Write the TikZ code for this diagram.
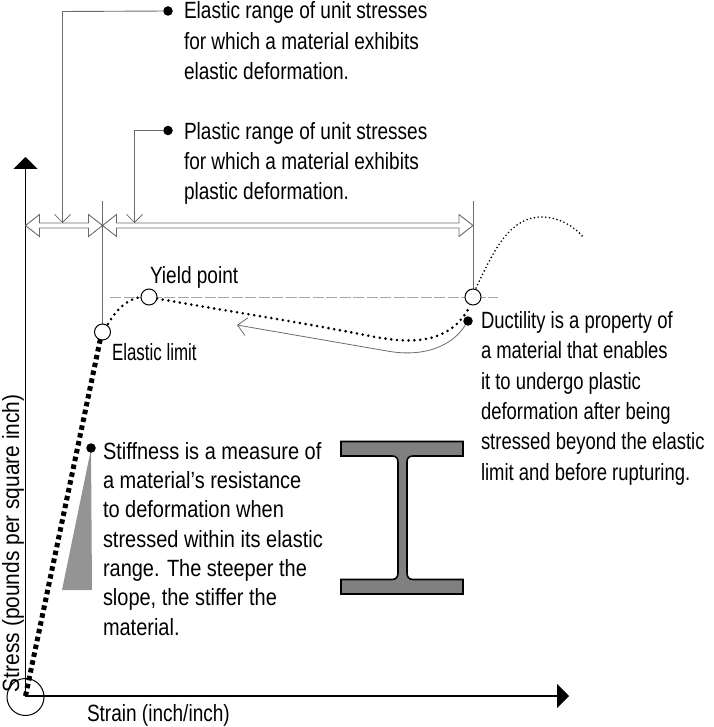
\documentclass[tikz,border=0pt]{standalone}
\usepackage{fontspec}
\setmainfont[FakeStretch=0.81]{Liberation Sans}
\newfontfamily\stifffont[FakeStretch=0.85]{Liberation Sans}
\newfontfamily\ductfont[FakeStretch=0.785]{Liberation Sans}
\newfontfamily\limitfont[FakeStretch=0.72]{Liberation Sans}
\newfontfamily\stressfont[FakeStretch=0.89]{Liberation Sans}
\usetikzlibrary{arrows.meta,calc}
\definecolor{leader}{gray}{0.42}
\tikzset{
  x=1pt,y=-1pt,
  lab/.style={inner sep=0pt,outer sep=0pt,anchor=base west,align=left,font=\fontsize{23.5}{30.3}\selectfont,text=black},
  dotn/.style={circle,fill=black,inner sep=0pt,minimum size=9.5pt},
  ring/.style={circle,draw=black,line width=1pt,fill=white,inner sep=0pt,minimum size=16pt},
  leaderl/.style={draw=leader,line width=0.9pt},
  vhead/.style={-{Straight Barb[length=8pt,width=16pt,line width=0.8pt,color=leader]}},
  dimshape/.style={draw=leader,line width=0.9pt,fill=white,line join=miter},
  axisl/.style={draw=black,line width=1.2pt,-{Triangle[length=12pt,width=24pt,color=black]}},
  thinlineb/.style={draw=leader,line width=0.9pt},
  fine/.style={draw=black,line width=1.8pt,line cap=round,dash pattern=on 0pt off 3.8pt},
  medium/.style={draw=black,line width=2.9pt,line cap=round,dash pattern=on 0pt off 5.8pt},
  heavy/.style={draw=black,line width=5pt,dash pattern=on 4.5pt off 3.5pt},
}
\begin{document}
\begin{tikzpicture}
\useasboundingbox (0,0) rectangle (713,727);
% coordinates
\coordinate (O) at (25.5,696);
\coordinate (ytop) at (25.5,157);
\coordinate (xtip) at (569,696);
\coordinate (dL) at (25.5,225.5);
\coordinate (dM) at (102.5,225.5);
\coordinate (dR) at (473,225.5);
\coordinate (tM) at (102.5,201);
\coordinate (tR) at (473,201);
\coordinate (hL) at (110,297);
\coordinate (hR) at (498,297);
\coordinate (e1) at (62.5,223);
\coordinate (e2) at (134.5,223);
\coordinate (bendA) at (62.5,11.5);
\coordinate (bendB) at (134.5,130.5);
\coordinate (tipD) at (237,325);
\coordinate (endC) at (583,237);
% stiffness triangle
\fill[black!42] (91,449) -- (92,590) -- (62,590) -- cycle;
% axes
\draw[axisl] (25.5,697) -- (ytop);
\draw[axisl] (25.5,696) -- (xtip);
\node[circle,draw=black,line width=1pt,inner sep=0pt,minimum size=37pt] (orig) at (25.5,697) {};
% guides
\draw[leaderl] (tM) -- (102.5,326);
\draw[leaderl] (tR) -- (473,290);
\draw[draw=gray!70,line width=1pt,dash pattern=on 11pt off 2.5pt] (hL) -- (hR);
% dimension arrows
\draw[dimshape] (dL) -- ++(14,-11) -- ++(0,8.5) -- ($(dM)+(-14,-2.5)$) -- ($(dM)+(-14,-11)$) -- (dM)
  -- ($(dM)+(-14,11)$) -- ($(dM)+(-14,2.5)$) -- ($(dL)+(14,2.5)$) -- ($(dL)+(14,11)$) -- cycle;
\draw[dimshape] (dM) -- ++(14,-11) -- ++(0,8.5) -- ($(dR)+(-14,-2.5)$) -- ($(dR)+(-14,-11)$) -- (dR)
  -- ($(dR)+(-14,11)$) -- ($(dR)+(-14,2.5)$) -- ($(dM)+(14,2.5)$) -- ($(dM)+(14,11)$) -- cycle;
% dots
\node[dotn] (dA) at (168,11) {};
\node[dotn] (dB) at (168,130.5) {};
\node[dotn] (dC) at (468,321) {};
\node[dotn] (dS) at (91,448) {};
% leaders
\draw[leaderl,vhead] (dA) -- (bendA) -- (e1);
\draw[leaderl,vhead] (dB) -- (bendB) -- (e2);
% ductility arrow
\draw[thinlineb,line width=0.8pt,-{Straight Barb[length=9pt,width=18pt,line width=0.8pt,color=leader]}]
  (dC) .. controls (452,346) and (425,357) .. (390,351.5) -- (tipD);
% curves
\draw[heavy] (O) -- (101,336);
\draw[medium] (108,324) .. controls (116,310) and (127,299) .. (141,297);
\draw[medium] (157,298.5) .. controls (220,310) and (300,322) .. (370,336)
   .. controls (410,344) and (450,345) .. (470,306);
\draw[fine] (476,288) .. controls (494,250) and (510,216) .. (543,217)
   .. controls (560,218) and (574,226) .. (endC);
% rings
\node[ring] (rE) at (102.5,332) {};
\node[ring] (rY) at (149,297) {};
\node[ring] (rD) at (473,297) {};
% I beam
\path[fill=gray!100!black,fill opacity=1,draw=black,line width=1.6pt]
 (341,441.5) -- (463,441.5) -- (463,456) -- (413,456)
 .. controls (409,456) and (407,458) .. (407,462) -- (407,573)
 .. controls (407,577) and (409,579.5) .. (413,579.5) -- (463,579.5) -- (463,594) -- (341,594) -- (341,579.5) -- (392,579.5)
 .. controls (396,579.5) and (398,577) .. (398,573) -- (398,462)
 .. controls (398,458) and (396,456) .. (392,456) -- (341,456) -- cycle;
% labels
\node[lab] (tA) at (184,79.5) {Elastic range of unit stresses\\for which a material exhibits\\elastic deformation.};
\node[lab] (tB) at (184,200) {Plastic range of unit stresses\\for which a material exhibits\\plastic deformation.};
\node[lab] (tY) at (150,283) {Yield point};
\node[lab,font=\fontsize{23.5}{30.3}\limitfont] (tE) at (112,360) {Elastic limit};
\node[lab,font=\fontsize{23.5}{30.3}\ductfont] (tD) at (481,480) {Ductility is a property of\\a material that enables\\it to undergo plastic\\deformation after being\\stressed beyond the elastic\\limit and before rupturing.};
\node[lab,font=\fontsize{23.5}{29.3}\stifffont] (tS) at (103,635) {Stiffness is a measure of\\a material’s resistance\\to deformation when\\stressed within its elastic\\range. The steeper the\\slope, the stiffer the\\material.};
\node[lab] (tX) at (87,721) {Strain (inch/inch)};
\node[lab,rotate=90,font=\fontsize{23.5}{30.3}\stressfont] (tYa) at (19,692) {Stress (pounds per square inch)};
\end{tikzpicture}
\end{document}
